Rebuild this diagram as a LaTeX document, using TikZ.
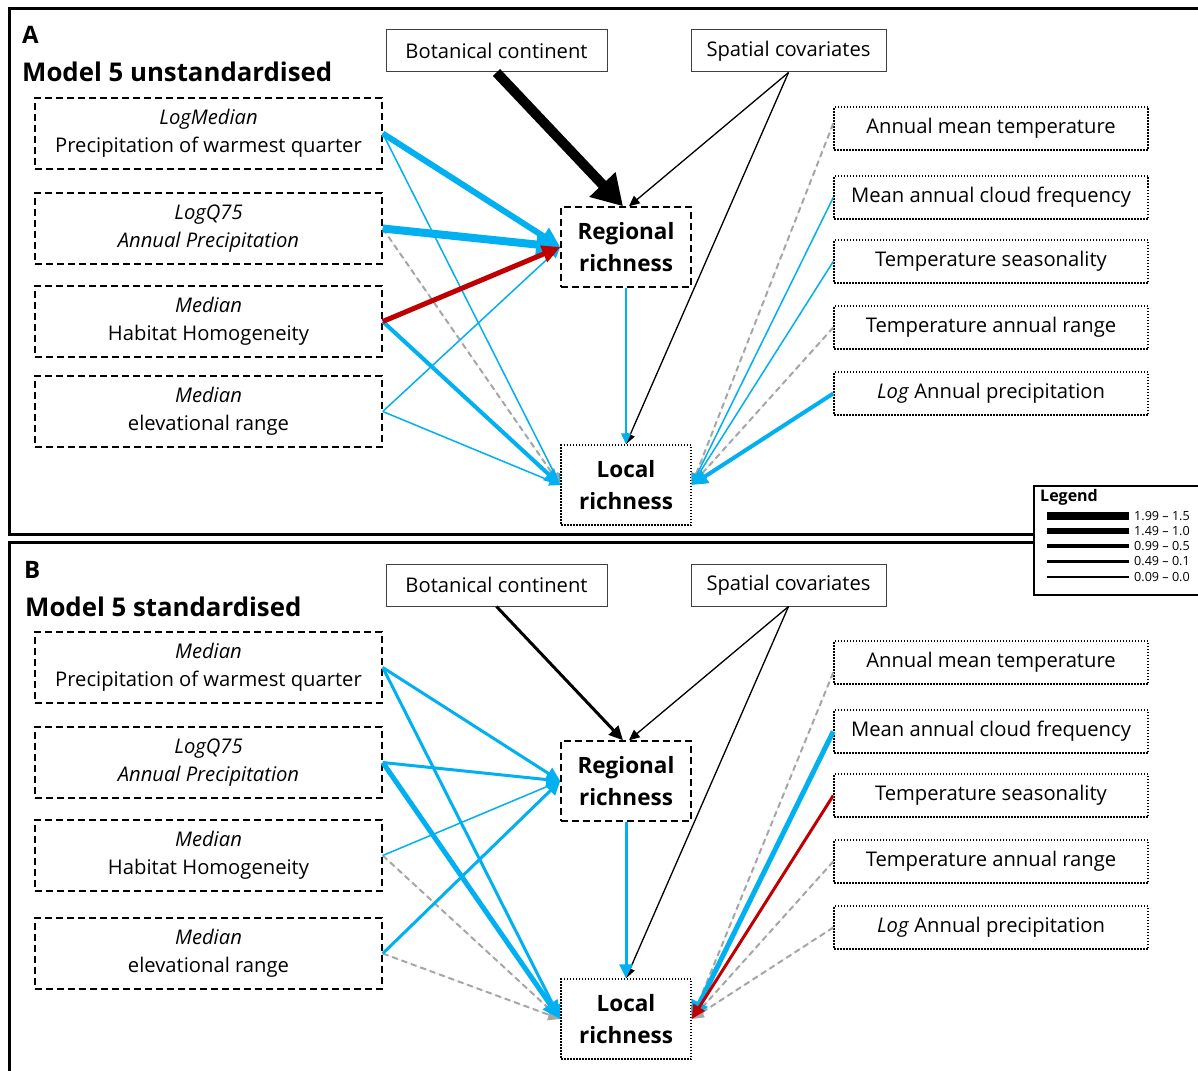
\documentclass[tikz,border=0pt]{standalone}
\usepackage{fontspec}
\setmainfont{Open Sans}
\usetikzlibrary{arrows.meta}
\definecolor{cblue}{HTML}{00B0F0}
\definecolor{cred}{HTML}{C00000}
\definecolor{cgray}{HTML}{A6A6A6}
\begin{document}
\begin{tikzpicture}[x=1pt,y=-1pt,
  lbox/.style={draw, line width=1.5pt, dash pattern=on 7pt off 4pt, minimum width=347pt, minimum height=71pt, inner sep=0pt, align=center, font=\fontsize{20.2}{28}\selectfont},
  rbox/.style={draw, line width=1.5pt, dash pattern=on 1.5pt off 1.5pt, minimum width=314pt, minimum height=43pt, inner sep=0pt, font=\fontsize{20.2}{25}\selectfont},
  tbox/.style={draw=black!75, line width=1pt, minimum height=42pt, inner sep=0pt, font=\fontsize{20.2}{25}\selectfont},
  rich/.style={minimum width=130pt, minimum height=80pt, inner sep=0pt, align=center, line width=1.5pt, font=\bfseries\fontsize{22.5}{32}\selectfont},
  regbox/.style={rich, draw, dash pattern=on 7pt off 4pt},
  locbox/.style={rich, draw, dash pattern=on 1.5pt off 1.5pt},
  title/.style={anchor=west, inner sep=0pt, font=\bfseries\fontsize{25.8}{32}\selectfont},
  plab/.style={anchor=west, inner sep=0pt, font=\bfseries\fontsize{24}{30}\selectfont},
  tip/.style={-{Triangle[length=8pt 2,width=7pt 2]}},
  bl/.style={tip, draw=cblue, fill=cblue, line width=#1pt},
  rd/.style={tip, draw=cred, fill=cred, line width=#1pt},
  bk/.style={tip, draw=black, fill=black, line width=#1pt},
  bigbk/.style={-{Triangle[length=30pt,width=34pt]}, draw=black, fill=black, line width=#1pt},
  gr/.style={tip, draw=cgray, fill=cgray, line width=2pt, dash pattern=on 6pt off 4pt},
  legtxt/.style={anchor=west, inner sep=0pt, font=\fontsize{12.6}{14}\selectfont}
]
\useasboundingbox (0,0) rectangle (1198,1070);
\fill[white] (0,0) rectangle (1198,1070);
\begin{scope}
\clip (0,0) rectangle (1198,1070);
\draw[line width=3pt] (9,9) rectangle (1215,534);
\draw[line width=3pt] (9,542) rectangle (1215,1085);
\end{scope}

% ---------------- Panel A ----------------
\node[plab] (la) at (22,35) {A};
\node[title] (ta) at (22,72) {Model 5 unstandardised};
\node[tbox, minimum width=221pt] (bota) at (496.5,51) {Botanical continent};
\node[tbox, minimum width=195pt] (spa) at (788.5,51) {Spatial covariates};
\node[lbox] (a1) at (208.5,133.5) {\textit{LogMedian}\\Precipitation of warmest quarter};
\node[lbox] (a2) at (208.5,228.5) {\textit{LogQ75}\\\textit{Annual Precipitation}};
\node[lbox] (a3) at (208.5,321.5) {\textit{Median}\\Habitat Homogeneity};
\node[lbox] (a4) at (208.5,411.5) {\textit{Median}\\elevational range};
\node[regbox] (rega) at (626,247) {Regional\\richness};
\node[locbox] (loca) at (626,485) {Local\\richness};
\node[rbox] (ra1) at (991,128.5) {Annual mean temperature};
\node[rbox] (ra2) at (991,197.5) {Mean annual cloud frequency};
\node[rbox] (ra3) at (991,261.5) {Temperature seasonality};
\node[rbox] (ra4) at (991,327.5) {Temperature annual range};
\node[rbox] (ra5) at (991,393.5) {\textit{Log} Annual precipitation};

\draw[bigbk=10] (bota.south) -- ([xshift=-3pt]rega.north);
\draw[bk=1.3] (spa.south) -- ([xshift=3pt]rega.north);
\draw[bk=1.3] (spa.south) -- (loca.north);
\draw[bl=1.5] (rega.south) -- (loca.north);
\draw[bl=1.5] (a1.east) -- (loca.west);
\draw[gr] (a2.east) -- (loca.west);
\draw[bl=1.5] (a4.east) -- (rega.west);
\draw[bl=1.5] (a4.east) -- (loca.west);
\draw[bl=4] (a3.east) -- (loca.west);
\draw[bl=6] (a1.east) -- (rega.west);
\draw[bl=8] (a2.east) -- (rega.west);
\draw[rd=5] (a3.east) -- (rega.west);
\draw[gr] ([yshift=5pt]ra1.west) -- (loca.east);
\draw[gr] (ra4.west) -- (loca.east);
\draw[bl=1.5] (ra2.west) -- (loca.east);
\draw[bl=1.5] (ra3.west) -- (loca.east);
\draw[bl=4] (ra5.west) -- (loca.east);

% ---------------- Panel B ----------------
\node[plab] (lb) at (24,570) {B};
\node[title] (tb) at (25,607) {Model 5 standardised};
\node[tbox, minimum width=221pt] (botb) at (496.5,585) {Botanical continent};
\node[tbox, minimum width=195pt] (spb) at (788.5,585) {Spatial covariates};
\node[lbox] (b1) at (208.5,667.5) {\textit{Median}\\Precipitation of warmest quarter};
\node[lbox] (b2) at (208.5,762.5) {\textit{LogQ75}\\\textit{Annual Precipitation}};
\node[lbox] (b3) at (208.5,855.5) {\textit{Median}\\Habitat Homogeneity};
\node[lbox] (b4) at (208.5,953.5) {\textit{Median}\\elevational range};
\node[regbox] (regb) at (626,781) {Regional\\richness};
\node[locbox] (locb) at (626,1019) {Local\\richness};
\node[rbox] (rb1) at (991,662.5) {Annual mean temperature};
\node[rbox] (rb2) at (991,731.5) {Mean annual cloud frequency};
\node[rbox] (rb3) at (991,795.5) {Temperature seasonality};
\node[rbox] (rb4) at (991,861.5) {Temperature annual range};
\node[rbox] (rb5) at (991,927.5) {\textit{Log} Annual precipitation};

\draw[bk=3] (botb.south) -- ([xshift=-3pt]regb.north);
\draw[bk=1.3] (spb.south) -- ([xshift=3pt]regb.north);
\draw[bk=1.3] (spb.south) -- (locb.north);
\draw[bl=3] (regb.south) -- (locb.north);
\draw[gr] (b3.east) -- (locb.west);
\draw[gr] (b4.east) -- (locb.west);
\draw[bl=1.5] (b3.east) -- (regb.west);
\draw[bl=3] (b1.east) -- (regb.west);
\draw[bl=3] (b1.east) -- (locb.west);
\draw[bl=3] (b2.east) -- (regb.west);
\draw[bl=5] (b2.east) -- (locb.west);
\draw[bl=3] (b4.east) -- (regb.west);
\draw[gr] ([yshift=-10pt]rb1.west) -- (locb.east);
\draw[gr] (rb4.west) -- (locb.east);
\draw[gr] (rb5.west) -- (locb.east);
\draw[bl=5] (rb2.west) -- (locb.east);
\draw[rd=3] (rb3.west) -- (locb.east);

% ---------------- Legend ----------------
\node[draw, fill=white, line width=1.5pt, anchor=north west, minimum width=180pt, minimum height=109pt, inner sep=0pt] (leg) at (1033,485) {};
\node[anchor=west, inner sep=0pt, font=\bfseries\fontsize{16}{18}\selectfont] (legt) at (1040,497) {Legend};
\coordinate (l1a) at (1047,516); \coordinate (l1b) at (1129,516);
\coordinate (l2a) at (1047,531); \coordinate (l2b) at (1129,531);
\coordinate (l3a) at (1047,546); \coordinate (l3b) at (1129,546);
\coordinate (l4a) at (1047,561); \coordinate (l4b) at (1129,561);
\coordinate (l5a) at (1047,577); \coordinate (l5b) at (1129,577);
\draw[line width=8pt] (l1a) -- (l1b);
\draw[line width=6pt] (l2a) -- (l2b);
\draw[line width=4.5pt] (l3a) -- (l3b);
\draw[line width=3pt] (l4a) -- (l4b);
\draw[line width=1.5pt] (l5a) -- (l5b);
\node[legtxt] (t1) at (1134,516) {1.99 – 1.5};
\node[legtxt] (t2) at (1134,531) {1.49 – 1.0};
\node[legtxt] (t3) at (1134,546) {0.99 – 0.5};
\node[legtxt] (t4) at (1134,561) {0.49 – 0.1};
\node[legtxt] (t5) at (1134,577) {0.09 – 0.0};
\end{tikzpicture}
\end{document}
